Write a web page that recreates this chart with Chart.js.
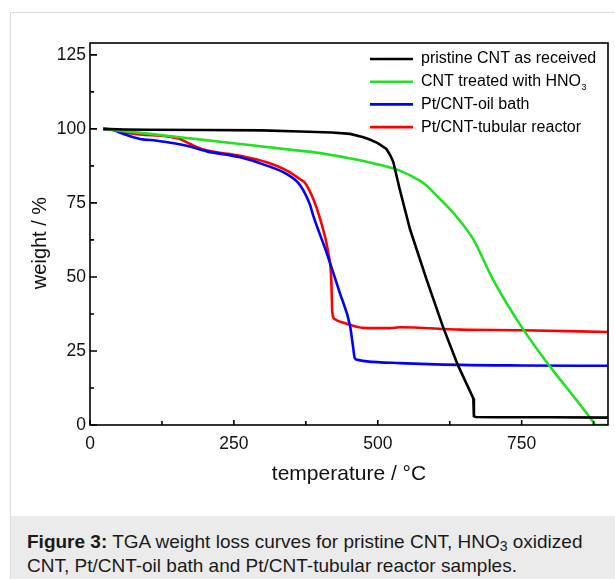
<!DOCTYPE html>
<html>
<head>
<meta charset="utf-8">
<script src="https://cdn.jsdelivr.net/npm/chart.js@4.4.1/dist/chart.umd.min.js"></script>
<style>
  html, body { margin: 0; padding: 0; background: #fff; }
  body { width: 615px; height: 579px; position: relative; overflow: hidden;
         font-family: "Liberation Sans", Arial, sans-serif; }
  #card { position: absolute; left: 10px; top: 12px; width: 640px; height: 600px;
          border: 1px solid #dcdcdc; box-sizing: border-box; }
  #chart { position: absolute; left: 0; top: 0; }
  #caption { position: absolute; left: 11px; top: 516px; width: 620px; height: 70px;
             background: #ebebeb; box-sizing: border-box; padding: 14px 0 0 16px;
             font-size: 19px; line-height: 24px; color: #1a1a1a; }
  #caption sub { font-size: 14px; line-height: 0; vertical-align: -3px; }
</style>
</head>
<body>
<div id="card"></div>
<canvas id="chart" width="615" height="516"></canvas>
<div id="caption"><b>Figure 3:</b> TGA weight loss curves for pristine CNT, HNO<sub>3</sub> oxidized<br>CNT, Pt/CNT-oil bath and Pt/CNT-tubular reactor samples.</div>
<script>
// TGA curves: temperature (°C) / weight (%)
const pristineT = [23, 60, 100, 200, 300, 365, 420, 452, 475, 486, 500, 515, 522, 527, 538, 556, 585, 613, 639, 666, 667, 670, 700, 800, 900];
const pristineW = [100, 99.8, 99.7, 99.6, 99.5, 99.1, 98.8, 98.3, 97.2, 96.4, 95.2, 93.2, 91, 88.8, 79.7, 66.1, 49, 33.3, 20.3, 9, 3, 2.7, 2.6, 2.6, 2.5];

const hno3T = [23, 60, 104, 174, 261, 347, 400, 452, 498, 538, 573, 585, 608, 620, 643, 666, 700, 753, 799, 845, 874, 878, 900];
const hno3W = [100, 99.2, 98.3, 96.8, 94.9, 93, 91.8, 90, 88.1, 85.9, 82.5, 80.8, 76.3, 74, 68.9, 62.7, 49.2, 32.2, 19.8, 8.5, 1.1, 0, 0];

const oilT = [23, 40, 58, 87, 116, 168, 203, 261, 307, 342, 365, 382, 388, 411, 434, 452, 457, 460, 465, 481, 538, 643, 750, 900];
const oilW = [100, 99.6, 98.3, 96.6, 96, 94.3, 92.4, 90.4, 87.6, 84.7, 81, 74.5, 70.6, 58.2, 44.6, 33.3, 26.5, 22.6, 22, 21.5, 20.9, 20.3, 20.1, 20];

const tubeT = [23, 40, 58, 87, 133, 156, 174, 197, 261, 307, 342, 365, 373, 388, 400, 414, 419, 420, 421, 425, 446, 475, 521, 538, 643, 750, 900];
const tubeW = [100, 99.7, 98.9, 98.1, 97.5, 96.6, 94.9, 93, 90.9, 88.7, 85.9, 83, 81.9, 76.3, 69.5, 58.2, 50, 44, 38, 35.8, 34.2, 32.8, 32.7, 33, 32.2, 32, 31.4];

const seriesNames = ["pristine CNT as received", "CNT treated with HNO", "Pt/CNT-oil bath", "Pt/CNT-tubular reactor"];
const seriesSubs = ["", "3", "", ""];
const seriesColors = ["#000000", "#22e022", "#0000ff", "#ff0000"];
// the black trace has near straight runs and a hard step, smoothing bends it
const seriesSmooth = [false, true, true, true];

const xTicks = [0, 250, 500, 750];
const xMinorTicks = [125, 375, 625, 875];
const yTicks = [0, 25, 50, 75, 100, 125];
const yMinorTicks = [12.5, 37.5, 62.5, 87.5, 112.5];

const yTitle = 'weight / %';

const FONT = '"Liberation Sans", Arial, sans-serif';

function toPoints(xs, ys) {
  return xs.map((x, i) => ({ x: x, y: ys[i] }));
}

const allT = [pristineT, hno3T, oilT, tubeT];
const allW = [pristineW, hno3W, oilW, tubeW];

const datasets = seriesNames.map((name, i) => ({
  label: name,
  data: toPoints(allT[i], allW[i]),
  borderColor: seriesColors[i],
  borderWidth: 2.6,
  pointRadius: 0,
  cubicInterpolationMode: seriesSmooth[i] ? 'monotone' : 'default',
  tension: 0,
  fill: false
}));

// inward ticks + full frame, like the origin plot
const frameTicks = {
  id: 'frameTicks',
  afterDatasetsDraw(chart) {
    const { ctx, chartArea: a, scales: { x, y } } = chart;
    ctx.save();
    ctx.strokeStyle = '#000';
    ctx.lineWidth = 1.6;
    ctx.strokeRect(a.left, a.top, a.right - a.left, a.bottom - a.top);
    ctx.beginPath();
    yTicks.forEach(v => { const p = y.getPixelForValue(v); ctx.moveTo(a.left, p); ctx.lineTo(a.left + 7, p); });
    yMinorTicks.forEach(v => { const p = y.getPixelForValue(v); ctx.moveTo(a.left, p); ctx.lineTo(a.left + 4, p); });
    xTicks.forEach(v => { const p = x.getPixelForValue(v); ctx.moveTo(p, a.bottom); ctx.lineTo(p, a.bottom - 5); });
    xMinorTicks.forEach(v => { const p = x.getPixelForValue(v); ctx.moveTo(p, a.bottom); ctx.lineTo(p, a.bottom - 4); });
    ctx.stroke();

    // y title sits a bit below the middle of the axis in the original
    ctx.fillStyle = '#111';
    ctx.font = '20px ' + FONT;
    ctx.textAlign = 'center';
    ctx.textBaseline = 'middle';
    ctx.translate(40, (a.top + a.bottom) / 2 + 9);
    ctx.rotate(-Math.PI / 2);
    ctx.fillText(yTitle, 0, 0);
    ctx.restore();
  }
};

// legend sits inside the plot, top right
const innerLegend = {
  id: 'innerLegend',
  afterDatasetsDraw(chart) {
    const { ctx, chartArea: a } = chart;
    const x0 = a.right - 238;
    ctx.save();
    ctx.textBaseline = 'middle';
    chart.data.datasets.forEach((ds, i) => {
      const yy = a.top + 16 + i * 22.7;
      ctx.strokeStyle = ds.borderColor;
      ctx.lineWidth = 2.6;
      ctx.beginPath();
      ctx.moveTo(x0, yy);
      ctx.lineTo(x0 + 43, yy);
      ctx.stroke();
      ctx.fillStyle = '#000';
      ctx.font = '16px ' + FONT;
      ctx.fillText(seriesNames[i], x0 + 51, yy);
      if (seriesSubs[i]) {
        const w = ctx.measureText(seriesNames[i]).width;
        ctx.font = '9px ' + FONT;
        ctx.fillText(seriesSubs[i], x0 + 51 + w + 0.5, yy + 6);
      }
    });
    ctx.restore();
  }
};

new Chart(document.getElementById('chart'), {
  type: 'line',
  data: { datasets },
  options: {
    responsive: false,
    animation: false,
    layout: { padding: { left: 0, right: 7, top: 43, bottom: 0 } },
    plugins: { legend: { display: false }, tooltip: { enabled: false } },
    scales: {
      x: {
        type: 'linear',
        min: 0,
        max: 900,
        afterFit: s => { s.height = 91; },
        afterBuildTicks: s => { s.ticks = xTicks.map(v => ({ value: v })); },
        grid: { display: false, drawTicks: false },
        border: { display: false },
        ticks: { padding: 9, color: '#111', font: { family: FONT, size: 17.5 } },
        title: {
          display: true,
          text: 'temperature / °C',
          color: '#111',
          font: { family: FONT, size: 21 },
          padding: { top: 0, bottom: 29 }
        }
      },
      y: {
        type: 'linear',
        min: 0,
        max: 129,
        afterFit: s => { s.width = 90; },
        afterBuildTicks: s => { s.ticks = yTicks.map(v => ({ value: v })); },
        grid: { display: false, drawTicks: false },
        border: { display: false },
        ticks: { padding: 4, color: '#111', font: { family: FONT, size: 17.5 } },
        title: { display: false }
      }
    }
  },
  plugins: [frameTicks, innerLegend]
});
</script>
</body>
</html>
